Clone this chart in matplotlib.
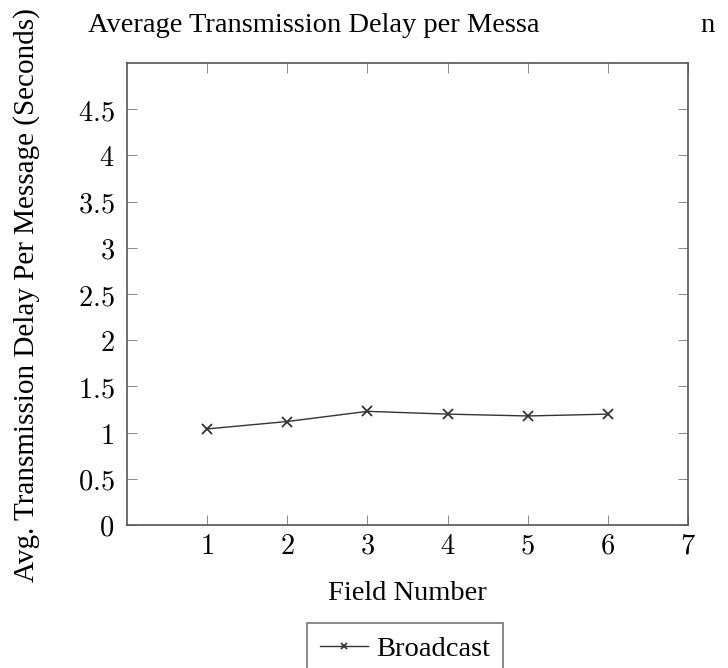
import matplotlib
matplotlib.use("Agg")
import matplotlib.pyplot as plt
import numpy as np

# data
field = [1, 2, 3, 4, 5, 6]
delay = [1.04, 1.12, 1.23, 1.20, 1.18, 1.20]
yticks = [0, 0.5, 1, 1.5, 2, 2.5, 3, 3.5, 4, 4.5]
xticks = [1, 2, 3, 4, 5, 6, 7]

plt.rcParams['mathtext.fontset'] = 'cm'
serif = ['Liberation Serif', 'DejaVu Serif']
fs = 20.5

fig = plt.figure(figsize=(7.28, 6.68), dpi=100)
ax = fig.add_axes([127 / 728, 1 - 525 / 668, (688 - 127) / 728, (525 - 63) / 668])

ax.plot(field, delay, color='#333333', lw=1.0, marker='x', ms=7, mew=1.3, label='Broadcast')
ax.set_xlim(0, 7)
ax.set_ylim(0, 5)
ax.set_xticks(xticks)
ax.set_yticks(yticks)
ax.set_xticklabels(['$%g$' % t for t in xticks], fontsize=fs)
ax.set_yticklabels(['$%g$' % t for t in yticks], fontsize=fs)
ax.tick_params(direction='in', top=True, right=True, length=7, width=0.6, color='#777777')
ax.tick_params(axis='y', pad=9)
ax.tick_params(axis='x', pad=5)
for s in ax.spines.values():
    s.set_color('#555555')
    s.set_linewidth(1.2)

ax.set_xlabel('Field Number', family=serif, fontsize=fs, labelpad=15)
ax.set_ylabel('Avg. Transmission Delay Per Message (Seconds)', family=serif, fontsize=fs + 0.5)
ax.yaxis.set_label_coords((40 - 127) / 561, (525 - 295) / 462)

# title is cut off in the source image
fig.text(88 / 728, 1 - 25 / 668, 'Average Transmission Delay per Messa', family=serif,
         fontsize=fs, va='center', ha='left')
fig.text(700 / 728, 1 - 25 / 668, 'n', family=serif, fontsize=fs, va='center', ha='left')

leg = ax.legend(loc='upper center', bbox_to_anchor=((405 - 127) / 561, -(623 - 525) / 462),
                frameon=True, fancybox=False, prop={'family': serif, 'size': fs},
                handlelength=1.7, borderpad=0.45, handletextpad=0.3, markerscale=0.55,
                borderaxespad=0)
leg.get_frame().set_edgecolor('#555555')
leg.get_frame().set_linewidth(1.2)

fig.savefig('out.png', dpi=100)
